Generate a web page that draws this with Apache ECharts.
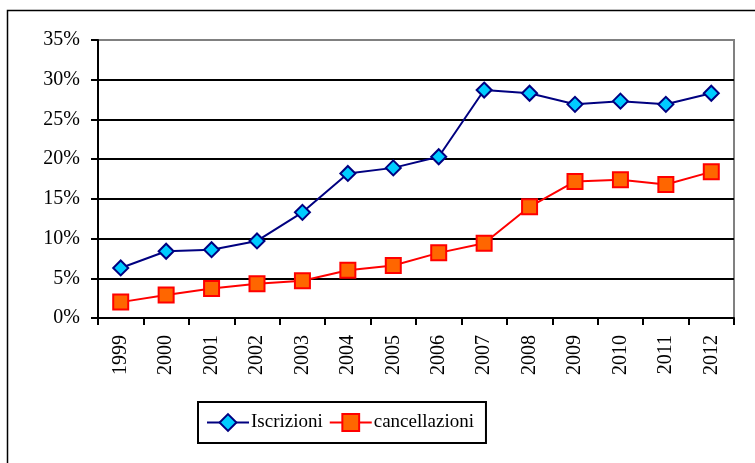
<!DOCTYPE html>
<html>
<head>
<meta charset="utf-8">
<script src="https://cdn.jsdelivr.net/npm/echarts@6/dist/echarts.min.js"></script>
<style>
  html, body { margin: 0; padding: 0; background: #fff; }
  #main { width: 755px; height: 463px; }
</style>
</head>
<body>
<div id="main"></div>
<script>
// dati (valori in %)
var anni = ['1999','2000','2001','2002','2003','2004','2005','2006','2007','2008','2009','2010','2011','2012'];
var iscrizioni = [6.3, 8.4, 8.6, 9.7, 13.3, 18.2, 18.9, 20.3, 28.7, 28.3, 26.9, 27.3, 26.9, 28.3];
var cancellazioni = [2.0, 2.9, 3.7, 4.3, 4.7, 6.0, 6.6, 8.2, 9.4, 14.0, 17.2, 17.4, 16.8, 18.4];
var yTicks = [0, 5, 10, 15, 20, 25, 30, 35];

var font = '"Liberation Serif", "Times New Roman", serif';
var myChart = echarts.init(document.getElementById('main'));

myChart.setOption({
  animation: false,
  textStyle: { fontFamily: font, color: '#000' },
  graphic: [{
    type: 'rect',
    shape: { x: 7.5, y: 10.5, width: 760, height: 470 },
    style: { fill: 'none', stroke: '#000', lineWidth: 1.5 },
    silent: true
  }],
  grid: {
    left: 98, top: 40, width: 636, height: 278,
    show: true, borderColor: '#808080', borderWidth: 2, backgroundColor: 'transparent'
  },
  legend: {
    left: 198, top: 402,
    padding: [11, 12, 11, 8],
    borderColor: '#000', borderWidth: 2,
    itemWidth: 42, itemHeight: 21, itemGap: 6,
    textStyle: { fontFamily: font, fontSize: 19, color: '#000', padding: [0, 0, 0, -3] },
    data: ['Iscrizioni', 'cancellazioni']
  },
  xAxis: {
    type: 'category',
    data: anni,
    boundaryGap: true,
    axisLine: { lineStyle: { color: '#000', width: 2 } },
    axisTick: { show: true, alignWithLabel: false, length: 7, lineStyle: { color: '#000', width: 2 } },
    axisLabel: { rotate: 90, margin: 17, fontSize: 20, color: '#000', fontFamily: font, interval: 0 },
    splitLine: { show: false }
  },
  yAxis: {
    type: 'value',
    min: 0, max: 35, interval: 5,
    axisLine: { show: true, lineStyle: { color: '#000', width: 2 } },
    axisTick: { show: true, length: 7, lineStyle: { color: '#000', width: 2 } },
    axisLabel: {
      margin: 18, fontSize: 20, color: '#000', fontFamily: font,
      formatter: function (v) { return v + '%'; }
    },
    splitLine: {
      show: true,
      lineStyle: {
        width: 2,
        color: yTicks.map(function (t) { return t === 35 ? '#808080' : '#000'; })
      }
    }
  },
  series: [{
    name: 'Iscrizioni',
    type: 'line',
    data: iscrizioni,
    symbol: 'diamond',
    symbolSize: 15,
    lineStyle: { color: '#000080', width: 2 },
    itemStyle: { color: '#00CCFF', borderColor: '#000080', borderWidth: 2 }
  }, {
    name: 'cancellazioni',
    type: 'line',
    data: cancellazioni,
    symbol: 'rect',
    symbolSize: 15,
    lineStyle: { color: '#FF0000', width: 2 },
    itemStyle: { color: '#FF6600', borderColor: '#FF0000', borderWidth: 2 }
  }]
});
</script>
</body>
</html>
